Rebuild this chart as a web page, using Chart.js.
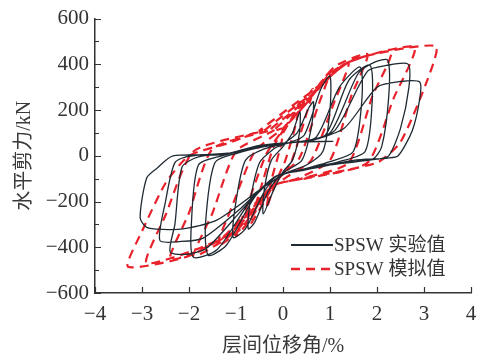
<!DOCTYPE html>
<html>
<head>
<meta charset="utf-8">
<script src="https://cdn.jsdelivr.net/npm/chart.js@4.4.1/dist/chart.umd.min.js"></script>
<style>
  html, body { margin: 0; padding: 0; background: #fff; }
  #wrap { width: 489px; height: 359px; }
</style>
</head>
<body>
<div id="wrap"><canvas id="loopChart" width="489" height="359"></canvas></div>
<script>
// ejes
const xTicks = [-4, -3, -2, -1, 0, 1, 2, 3, 4];
const yTicks = [-600, -400, -200, 0, 200, 400, 600];
const yMinor = [-500, -300, -100, 100, 300, 500];

const seriesNames = ['SPSW 实验值', 'SPSW 模拟值'];

// ciclos experimentales [deriva %, cortante kN]
const exp1 = [[0.0,40],[0.2,100],[0.36,193],[0.35,100],[0.2,-20],[0.0,-70],[-0.2,-150],[-0.42,-254],[-0.4,-150],[-0.25,-20],[0.0,40]];
const exp2 = [[0.0,50],[0.3,100],[0.55,210],[0.65,236],[0.6,120],[0.4,-20],[0.0,-75],[-0.3,-150],[-0.6,-290],[-0.74,-320],[-0.7,-200],[-0.5,-30],[-0.2,30],[0.0,50]];
const exp3 = [[0.1,55],[0.45,90],[0.8,290],[1.0,349],[1.0,200],[0.85,20],[0.5,-40],[0.0,-80],[-0.35,-140],[-0.8,-320],[-1.06,-357],[-1.0,-200],[-0.8,-20],[-0.4,30],[0.1,55]];
const exp4 = [[0.2,58],[0.7,80],[1.2,300],[1.64,388],[1.68,250],[1.5,20],[1.0,-25],[0.3,-65],[-0.1,-85],[-0.6,-180],[-1.2,-390],[-1.59,-435],[-1.65,-300],[-1.45,-30],[-1.0,10],[-0.4,40],[0.2,58]];
const exp5 = [[0.3,60],[0.9,90],[1.4,330],[1.85,396],[1.9,250],[1.75,20],[1.2,-25],[0.4,-65],[-0.1,-85],[-0.7,-200],[-1.4,-410],[-1.91,-443],[-1.95,-300],[-1.8,-40],[-1.3,0],[-0.5,40],[0.3,60]];
const exp6 = [[0.4,62],[1.0,100],[1.6,360],[1.95,410],[2.23,418],[2.25,260],[2.1,40],[1.9,-15],[1.0,-35],[0.3,-65],[-0.15,-90],[-0.8,-220],[-1.6,-400],[-2.0,-430],[-2.4,-421],[-2.3,-300],[-2.15,-50],[-1.8,-5],[-1.0,15],[-0.3,45],[0.4,62]];
const exp7 = [[0.5,62],[1.1,110],[1.8,370],[2.2,395],[2.66,401],[2.68,300],[2.5,120],[2.25,0],[2.0,-15],[1.0,-40],[0.2,-70],[-0.2,-95],[-0.9,-230],[-1.7,-360],[-2.2,-375],[-2.62,-370],[-2.5,-200],[-2.3,-30],[-2.0,-2],[-1.0,15],[-0.2,50],[0.5,62]];
const exp8 = [[0.6,65],[1.3,120],[2.0,300],[2.5,325],[2.91,323],[2.91,250],[2.75,110],[2.45,0],[2.23,-10],[1.5,-20],[0.7,-53],[0.08,-75],[-0.5,-150],[-1.4,-280],[-2.13,-320],[-2.55,-322],[-2.9,-313],[-3.04,-270],[-2.9,-97],[-2.68,-54],[-2.34,0],[-1.3,5],[-0.5,45],[0.3,60],[1.07,63]];

// ciclos simulados
const sim1 = [[0.0,100],[0.2,170],[0.36,236],[0.25,120],[0.05,-20],[-0.1,-90],[-0.25,-170],[-0.35,-230],[-0.25,-110],[-0.05,40],[0.0,100]];
const sim2 = [[0.0,110],[0.3,190],[0.64,293],[0.45,150],[0.15,-40],[-0.15,-110],[-0.4,-200],[-0.7,-300],[-0.5,-160],[-0.2,40],[0.0,110]];
const sim3 = [[0.0,115],[0.5,230],[0.8,320],[1.0,366],[0.75,220],[0.35,-10],[0.0,-80],[-0.3,-150],[-0.7,-280],[-1.0,-350],[-0.75,-210],[-0.35,10],[0.0,115]];
const sim4 = [[0.0,120],[0.5,230],[1.0,360],[1.4,405],[1.1,240],[0.6,-20],[0.1,-90],[-0.3,-150],[-0.9,-320],[-1.4,-395],[-1.1,-230],[-0.6,20],[0.0,120]];
const sim5 = [[-0.2,110],[0.5,240],[1.1,390],[1.8,444],[1.45,260],[1.0,-20],[0.3,-100],[-0.2,-130],[-1.0,-330],[-1.9,-440],[-1.5,-250],[-1.0,20],[-0.2,110]];
const sim6 = [[-0.3,110],[0.6,260],[1.3,400],[2.3,455],[1.9,260],[1.4,-30],[0.4,-100],[-0.2,-130],[-1.1,-340],[-2.4,-455],[-2.0,-250],[-1.5,30],[-0.3,110]];
const sim7 = [[-0.4,110],[0.6,270],[1.4,410],[2.8,475],[2.35,250],[1.8,-30],[0.6,-95],[-0.2,-130],[-1.2,-350],[-2.9,-470],[-2.5,-260],[-1.9,20],[-0.4,110]];
const sim8 = [[-0.5,110],[0.6,280],[1.5,420],[3.25,480],[3.05,320],[2.5,60],[2.0,-30],[0.4,-100],[-0.2,-130],[-1.3,-360],[-2.1,-445],[-3.3,-485],[-3.0,-330],[-2.5,-120],[-2.0,0],[-1.1,60],[-0.5,110]];

const expCycles = [exp1, exp2, exp3, exp4, exp5, exp6, exp7, exp8];
const simCycles = [sim1, sim2, sim3, sim4, sim5, sim6, sim7, sim8];

const toPoints = (cycles) => cycles.flat().map(([x, y]) => ({ x: x, y: y }));

const minus = (v) => String(v).replace('-', '\u2212');

const serif = "'Liberation Serif', 'Noto Sans CJK SC', serif";

// ticks hacia adentro y leyenda dentro del área
const innerTicks = {
    id: 'innerTicks',
    afterDraw(chart) {
        const { ctx, chartArea: a, scales: { x, y } } = chart;
        ctx.save();
        ctx.strokeStyle = '#333';
        ctx.lineWidth = 1.2;
        ctx.beginPath();
        yTicks.forEach(v => {
            const py = Math.round(y.getPixelForValue(v)) + 0.5;
            ctx.moveTo(a.left, py); ctx.lineTo(a.left + 6, py);
        });
        yMinor.forEach(v => {
            const py = Math.round(y.getPixelForValue(v)) + 0.5;
            ctx.moveTo(a.left, py); ctx.lineTo(a.left + 4, py);
        });
        xTicks.forEach(v => {
            const px = Math.round(x.getPixelForValue(v)) + 0.5;
            ctx.moveTo(px, a.bottom); ctx.lineTo(px, a.bottom - 6);
        });
        ctx.stroke();

        // leyenda
        const rows = [245, 269];
        chart.data.datasets.forEach((ds, i) => {
            ctx.beginPath();
            ctx.strokeStyle = ds.borderColor;
            ctx.lineWidth = i === 0 ? 2.2 : 2.4;
            ctx.setLineDash(ds.borderDash || []);
            ctx.moveTo(291, rows[i]);
            ctx.lineTo(333, rows[i]);
            ctx.stroke();
            ctx.setLineDash([]);
            ctx.fillStyle = '#333';
            ctx.font = '19px ' + serif;
            ctx.textBaseline = 'middle';
            ctx.textAlign = 'left';
            ctx.fillText(ds.label, 334, rows[i] + 1);
        });
        ctx.restore();
    }
};

const ctx = document.getElementById('loopChart').getContext('2d');
new Chart(ctx, {
    type: 'scatter',
    data: {
        datasets: [
            {
                label: seriesNames[0],
                data: toPoints(expCycles),
                showLine: true,
                borderColor: '#1f2a33',
                borderWidth: 1.3,
                pointRadius: 0,
                tension: 0.25,
            },
            {
                label: seriesNames[1],
                data: toPoints(simCycles),
                showLine: true,
                borderColor: '#e8212b',
                borderWidth: 2.2,
                borderDash: [9, 6],
                pointRadius: 0,
                tension: 0.2,
            }
        ],
    },
    options: {
        responsive: false,
        animation: false,
        layout: { padding: { top: 16, right: 18, left: 0, bottom: 0 } },
        plugins: {
            legend: { display: false },
            tooltip: { enabled: false },
        },
        scales: {
            x: {
                type: 'linear',
                min: -4, max: 4,
                afterBuildTicks: (s) => { s.ticks = xTicks.map(v => ({ value: v })); },
                afterFit: (s) => { s.height = 66; },
                grid: { display: false, drawTicks: false },
                border: { display: true, color: '#333', width: 1.5 },
                ticks: {
                    padding: 9,
                    color: '#333',
                    font: { family: serif, size: 21 },
                    callback: (v) => minus(v),
                },
                title: {
                    display: true,
                    text: '层间位移角/%',
                    color: '#3a3a3a',
                    font: { family: serif, size: 20 },
                    padding: { top: 0, bottom: 0 },
                },
            },
            y: {
                type: 'linear',
                min: -600, max: 600,
                afterBuildTicks: (s) => { s.ticks = yTicks.map(v => ({ value: v })); },
                afterFit: (s) => { s.width = 95; },
                grid: { display: false, drawTicks: false },
                border: { display: true, color: '#333', width: 1.5 },
                ticks: {
                    padding: 6,
                    color: '#333',
                    font: { family: serif, size: 21 },
                    callback: (v) => minus(v),
                },
                title: {
                    display: true,
                    text: '水平剪力/kN',
                    color: '#3a3a3a',
                    font: { family: serif, size: 20 },
                    padding: { top: 13, bottom: 0 },
                },
            },
        },
    },
    plugins: [innerTicks],
});
</script>
</body>
</html>
